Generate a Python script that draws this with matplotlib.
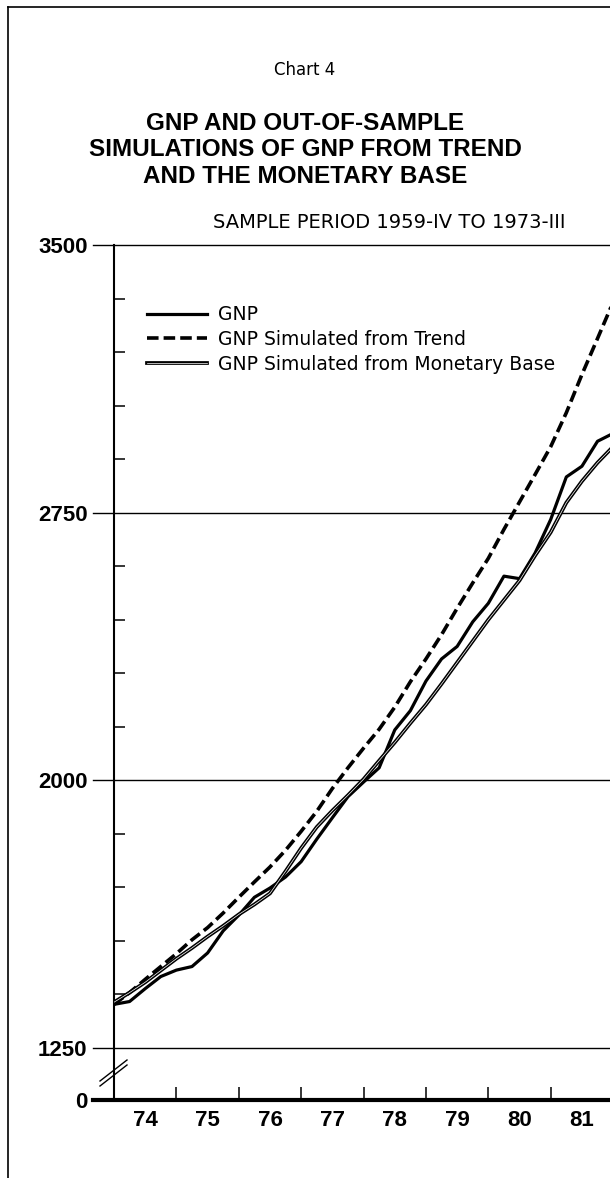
import matplotlib.pyplot as plt
from matplotlib.lines import Line2D
import matplotlib.patheffects as pe
import numpy as np

# quarterly observations, 1973-IV .. 1981-IV (plotted at end of quarter)
quarters = [f"{y}-{q}" for y in range(1973, 1982) for q in ("I", "II", "III", "IV")][3:]

gnp = [1372, 1380, 1416, 1450, 1468, 1478, 1516, 1578, 1622,
       1672, 1698, 1729, 1772, 1835, 1895, 1954, 1995,
       2035, 2141, 2195, 2278, 2340, 2375, 2444, 2496,
       2572, 2565, 2637, 2731, 2850, 2880, 2950, 2972]

trend = [1372, 1405, 1442, 1478, 1514, 1553, 1587, 1628, 1672,
         1715, 1757, 1804, 1857, 1913, 1977, 2035, 2090,
         2143, 2205, 2276, 2340, 2408, 2482, 2553, 2622,
         2703, 2780, 2857, 2935, 3030, 3137, 3238, 3340]

base = [1378, 1405, 1434, 1467, 1500, 1530, 1562, 1592, 1624,
        1652, 1683, 1745, 1810, 1869, 1915, 1958, 2003,
        2055, 2106, 2160, 2212, 2270, 2330, 2390, 2450,
        2505, 2560, 2630, 2695, 2778, 2838, 2890, 2935]

year_labels = ["74", "75", "76", "77", "78", "79", "80", "81"]
y_labels = ["0", "1250", "2000", "2750", "3500"]

W, H = 610, 1178
REG = "DejaVu Sans"
BOLD = "Liberation Sans"


def main():
    x = 1973.75 + 0.25 * (np.arange(len(quarters)) + 1)
    fake_zero = 1104

    fig = plt.figure(figsize=(W / 100, H / 100), dpi=100)
    ax = fig.add_axes([114 / W, 1 - 1100 / H, 496 / W, (1100 - 245) / H])
    ax.set_xlim(1974, 1981.95)
    ax.set_ylim(fake_zero, 3500)

    # grid lines reach past the axis toward the labels
    for v in [1250, 2000, 2750, 3500]:
        ax.axhline(v, xmin=-21 / 496, xmax=1, color="black", lw=1.0, clip_on=False, zorder=1)
    ax.axhline(fake_zero, xmin=-21 / 496, xmax=1, color="black", lw=3.0, clip_on=False, zorder=4)

    ax.plot(x, gnp, color="black", lw=2.3, solid_joinstyle="round",
            label="GNP", zorder=3)
    ax.plot(x, trend, color="black", lw=2.6, dashes=(3.2, 1.4),
            label="GNP Simulated from Trend", zorder=3)
    # monetary base line: black stroke with a thin light core
    ax.plot(x, base, color="white", lw=0.5, zorder=3,
            path_effects=[pe.Stroke(linewidth=2.7, foreground="black"), pe.Normal()],
            label="GNP Simulated from Monetary Base")

    for s in ["top", "right", "bottom"]:
        ax.spines[s].set_visible(False)
    ax.spines["left"].set_linewidth(1.5)

    ax.set_yticks([fake_zero, 1250, 2000, 2750, 3500])
    ax.set_yticklabels(y_labels, fontfamily=BOLD, fontweight="bold", fontsize=16)
    ax.tick_params(axis="y", which="major", length=0, pad=19)
    ax.set_yticks([v for v in range(1400, 3500, 150) if v not in (2000, 2750)], minor=True)
    ax.tick_params(axis="y", which="minor", direction="in", length=8, width=1.1)

    ax.set_xticks(range(1975, 1982))
    ax.set_xticklabels([])
    ax.tick_params(axis="x", which="major", direction="in", length=9.5, width=1.1)
    ax.set_xticks(np.arange(1974.5, 1982, 1.0), minor=True)
    ax.set_xticklabels(year_labels, minor=True, fontfamily=BOLD, fontweight="bold", fontsize=16)
    ax.tick_params(axis="x", which="minor", length=0, pad=7)

    # axis break marks
    for dy in (0, 5):
        ax.add_line(Line2D([(100 - 114) / 496, (127 - 114) / 496],
                           [(1100 - 1086 + dy) / 855, (1100 - 1065 + dy) / 855],
                           transform=ax.transAxes, color="black", lw=1.0, clip_on=False))

    fig.legend(loc="upper left", bbox_to_anchor=(138 / W, 1 - 296 / H),
               frameon=False, prop={"family": REG, "size": 13.5},
               handlelength=3.2, handletextpad=0.55, labelspacing=0.3, borderpad=0)

    fig.text(305 / W, 1 - 70 / H, "Chart 4", ha="center", va="center",
             fontfamily=REG, fontsize=12)
    title = "GNP AND OUT-OF-SAMPLE\nSIMULATIONS OF GNP FROM TREND\nAND THE MONETARY BASE"
    fig.text(305 / W, 1 - 150 / H, title, ha="center", va="center",
             fontfamily=BOLD, fontweight="bold", fontsize=17.5, linespacing=1.2)
    fig.text(389 / W, 1 - 222 / H, "SAMPLE PERIOD 1959-IV TO 1973-III", ha="center",
             va="center", fontfamily=REG, fontsize=14)

    # page frame
    fig.add_artist(Line2D([8 / W, 1], [1 - 7 / H, 1 - 7 / H], color="black", lw=1.2))
    fig.add_artist(Line2D([8 / W, 8 / W], [0, 1 - 7 / H], color="black", lw=1.2))

    fig.savefig("out.png", dpi=100)


if __name__ == "__main__":
    main()
